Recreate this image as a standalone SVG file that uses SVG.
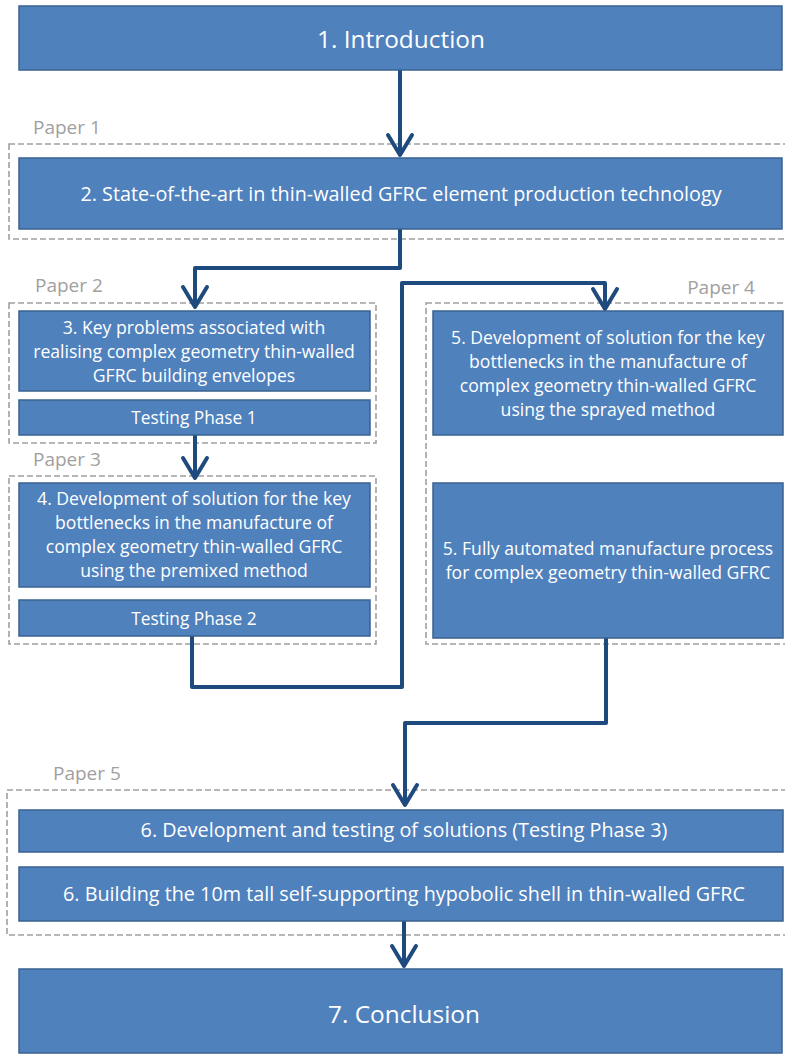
<svg xmlns="http://www.w3.org/2000/svg" width="785" height="1055" viewBox="0 0 785 1055">
<style>
.box{fill:#4F81BD;stroke:#3A6191;stroke-width:1.5}
.paper{fill:none;stroke:#A0A0A0;stroke-width:1.6;stroke-dasharray:6 3}
.plabel{font-family:"Open Sans","Liberation Sans",sans-serif;font-size:19px;fill:#A0A0A0}
.t{font-family:"Open Sans","Liberation Sans",sans-serif;font-size:17.6px;fill:#FFFFFF;text-anchor:middle}
.tp{font-family:"Open Sans","Liberation Sans",sans-serif;font-size:17.3px;fill:#FFFFFF;text-anchor:middle}
.tw{font-family:"Open Sans","Liberation Sans",sans-serif;font-size:19.8px;fill:#FFFFFF;text-anchor:middle}
.tl{font-family:"Open Sans","Liberation Sans",sans-serif;font-size:24.4px;fill:#FFFFFF;text-anchor:middle}
.conn{fill:none;stroke:#1F4A7E;stroke-width:4;stroke-linejoin:round}
</style>
<defs>
<marker id="arr" markerUnits="userSpaceOnUse" markerWidth="34" markerHeight="34" viewBox="-26 -17 34 34" refX="0" refY="0" orient="auto">
<path d="M-20,-12 L0,0 L-20,12" fill="none" stroke="#1F4A7E" stroke-width="4" stroke-linecap="round" stroke-linejoin="round"/>
</marker>
</defs>

<g id="paper1">
<rect class="paper" x="9" y="144" width="790" height="95"/>
<text class="plabel" x="33" y="134">Paper 1</text>
</g>
<g id="paper2">
<rect class="paper" x="9" y="303" width="367" height="140"/>
<text class="plabel" x="35" y="292">Paper 2</text>
</g>
<g id="paper3">
<rect class="paper" x="9" y="476" width="367" height="168"/>
<text class="plabel" x="33" y="466">Paper 3</text>
</g>
<g id="paper4">
<rect class="paper" x="426" y="303" width="380" height="341"/>
<text class="plabel" x="755" y="294" text-anchor="end">Paper 4</text>
</g>
<g id="paper5">
<rect class="paper" x="7" y="790" width="800" height="145"/>
<text class="plabel" x="53" y="780">Paper 5</text>
</g>

<g id="connectors">
<path class="conn" d="M400,70 L400,155" marker-end="url(#arr)"/>
<path class="conn" d="M400,229 L400,268 L195,268 L195,307" marker-end="url(#arr)"/>
<path class="conn" d="M195,435 L195,478" marker-end="url(#arr)"/>
<path class="conn" d="M192,636 L192,687 L402,687 L402,283 L605,283 L605,309" marker-end="url(#arr)"/>
<path class="conn" d="M606,638 L606,723 L405,723 L405,805" marker-end="url(#arr)"/>
<path class="conn" d="M404,921 L404,966" marker-end="url(#arr)"/>
</g>

<g id="n1">
<rect class="box" x="19" y="6" width="763" height="64"/>
<text class="tl" x="401" y="48">1. Introduction</text>
</g>
<g id="n2">
<rect class="box" x="19" y="158" width="763" height="71"/>
<text class="tw" x="401" y="201">2. State-of-the-art in thin-walled GFRC element production technology</text>
</g>
<g id="n3">
<rect class="box" x="19" y="311" width="351" height="80"/>
<text class="t" x="194" y="334">3. Key problems associated with</text>
<text class="t" x="194" y="358">realising complex geometry thin-walled</text>
<text class="t" x="194" y="382">GFRC building envelopes</text>
</g>
<g id="n3b">
<rect class="box" x="19" y="400" width="351" height="35"/>
<text class="tp" x="194" y="424">Testing Phase 1</text>
</g>
<g id="n4">
<rect class="box" x="19" y="483" width="351" height="104"/>
<text class="t" x="194" y="505">4. Development of solution for the key</text>
<text class="t" x="194" y="529">bottlenecks in the manufacture of</text>
<text class="t" x="194" y="553">complex geometry thin-walled GFRC</text>
<text class="t" x="194" y="577">using the premixed method</text>
</g>
<g id="n4b">
<rect class="box" x="19" y="600" width="351" height="36"/>
<text class="tp" x="194" y="625">Testing Phase 2</text>
</g>
<g id="n5a">
<rect class="box" x="433" y="311" width="350" height="124"/>
<text class="t" x="608" y="344">5. Development of solution for the key</text>
<text class="t" x="608" y="368">bottlenecks in the manufacture of</text>
<text class="t" x="608" y="392">complex geometry thin-walled GFRC</text>
<text class="t" x="608" y="416">using the sprayed method</text>
</g>
<g id="n5b">
<rect class="box" x="433" y="483" width="350" height="155"/>
<text class="t" x="608" y="555">5. Fully automated manufacture process</text>
<text class="t" x="608" y="579">for complex geometry thin-walled GFRC</text>
</g>
<g id="n6a">
<rect class="box" x="19" y="810" width="764" height="42"/>
<text class="tw" x="404" y="837">6. Development and testing of solutions (Testing Phase 3)</text>
</g>
<g id="n6b">
<rect class="box" x="19" y="867" width="764" height="54"/>
<text class="tw" x="404" y="901">6. Building the 10m tall self-supporting hypobolic shell in thin-walled GFRC</text>
</g>
<g id="n7">
<rect class="box" x="19" y="969" width="763" height="84"/>
<text class="tl" x="404" y="1023">7. Conclusion</text>
</g>
</svg>
